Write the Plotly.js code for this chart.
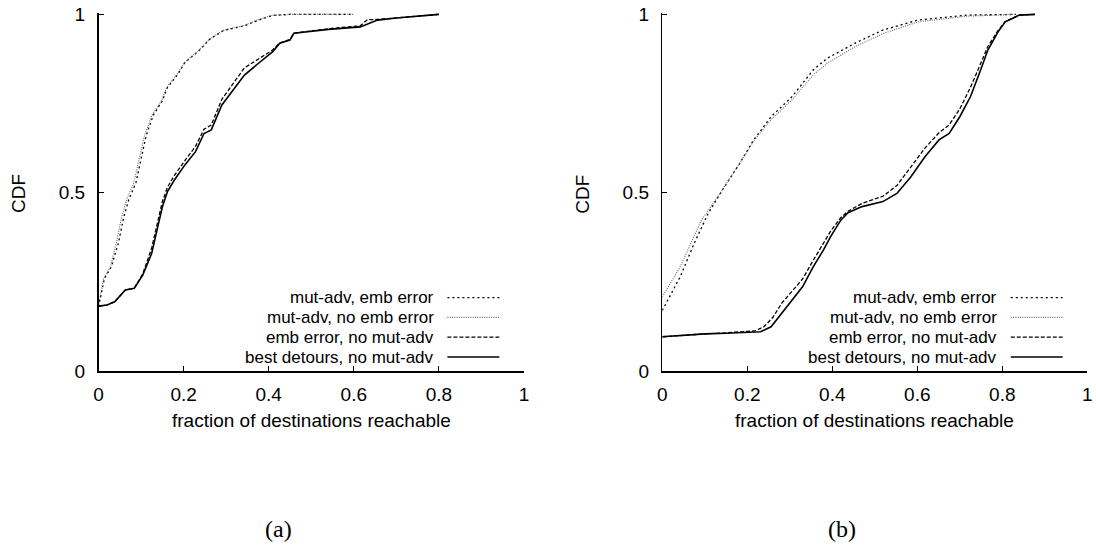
<!DOCTYPE html>
<html>
<head>
<meta charset="utf-8">
<script src="https://cdn.plot.ly/plotly-3.0.1.min.js"></script>
<style>html,body{margin:0;padding:0;background:#fff;}#chart{width:1096px;height:548px;}</style>
</head>
<body>
<div id="chart"></div>
<script>
// ---------- data: panel (a) ----------
const a_mutEmb_x = [0, 0.014, 0.03, 0.047, 0.059, 0.071, 0.088, 0.1, 0.112, 0.129, 0.15, 0.162, 0.187, 0.203, 0.236, 0.261, 0.294, 0.343, 0.376, 0.409, 0.45, 0.6];
const a_mutEmb_y = [0.18, 0.26, 0.292, 0.36, 0.43, 0.48, 0.528, 0.595, 0.66, 0.718, 0.758, 0.795, 0.833, 0.865, 0.898, 0.93, 0.955, 0.968, 0.984, 0.997, 1.0, 1.0];
const a_mutNoEmb_x = [0, 0.012, 0.028, 0.042, 0.054, 0.066, 0.083, 0.096, 0.108, 0.126, 0.148, 0.16, 0.185, 0.202, 0.235, 0.26, 0.292, 0.34, 0.372, 0.405, 0.45, 0.6];
const a_mutNoEmb_y = [0.18, 0.26, 0.292, 0.36, 0.43, 0.48, 0.528, 0.595, 0.66, 0.718, 0.758, 0.795, 0.833, 0.865, 0.898, 0.93, 0.955, 0.968, 0.984, 0.997, 1.0, 1.0];
const a_embNoMut_x = [0, 0.02, 0.038, 0.05, 0.063, 0.084, 0.104, 0.125, 0.137, 0.15, 0.162, 0.178, 0.203, 0.228, 0.248, 0.265, 0.29, 0.31, 0.343, 0.376, 0.409, 0.426, 0.45, 0.459, 0.541, 0.615, 0.632, 0.656, 0.7, 0.8];
const a_embNoMut_y = [0.182, 0.185, 0.194, 0.21, 0.227, 0.232, 0.272, 0.345, 0.41, 0.475, 0.515, 0.548, 0.59, 0.63, 0.678, 0.69, 0.762, 0.795, 0.85, 0.875, 0.9, 0.92, 0.93, 0.947, 0.96, 0.968, 0.985, 0.986, 0.99, 1.0];
const a_best_x = [0, 0.02, 0.038, 0.05, 0.063, 0.084, 0.104, 0.125, 0.137, 0.15, 0.162, 0.178, 0.203, 0.228, 0.248, 0.265, 0.29, 0.31, 0.343, 0.376, 0.409, 0.426, 0.45, 0.459, 0.541, 0.615, 0.656, 0.7, 0.8];
const a_best_y = [0.182, 0.185, 0.194, 0.21, 0.227, 0.232, 0.269, 0.33, 0.395, 0.46, 0.503, 0.535, 0.578, 0.615, 0.666, 0.676, 0.746, 0.778, 0.83, 0.863, 0.895, 0.919, 0.928, 0.947, 0.958, 0.965, 0.984, 0.99, 1.0];

// ---------- data: panel (b) ----------
const b_mutEmb_x = [0, 0.042, 0.075, 0.108, 0.141, 0.182, 0.215, 0.256, 0.305, 0.355, 0.388, 0.453, 0.519, 0.601, 0.716, 0.832];
const b_mutEmb_y = [0.17, 0.264, 0.358, 0.442, 0.507, 0.582, 0.648, 0.713, 0.769, 0.844, 0.877, 0.919, 0.956, 0.984, 0.998, 1.0];
const b_mutNoEmb_x = [0, 0.042, 0.092, 0.125, 0.182, 0.215, 0.256, 0.305, 0.355, 0.388, 0.453, 0.519, 0.601, 0.716, 0.832];
const b_mutNoEmb_y = [0.208, 0.292, 0.423, 0.479, 0.582, 0.645, 0.705, 0.76, 0.83, 0.863, 0.909, 0.946, 0.979, 0.995, 1.0];
const b_embNoMut_x = [0, 0.05, 0.1, 0.15, 0.2, 0.22, 0.239, 0.26, 0.281, 0.305, 0.33, 0.355, 0.379, 0.396, 0.42, 0.437, 0.47, 0.519, 0.552, 0.585, 0.618, 0.651, 0.675, 0.7, 0.725, 0.749, 0.766, 0.79, 0.807, 0.84, 0.877];
const b_embNoMut_y = [0.096, 0.101, 0.104, 0.107, 0.11, 0.113, 0.124, 0.15, 0.19, 0.222, 0.258, 0.31, 0.356, 0.392, 0.43, 0.448, 0.47, 0.49, 0.52, 0.572, 0.625, 0.668, 0.69, 0.735, 0.795, 0.862, 0.91, 0.955, 0.98, 0.998, 1.0];
const b_best_x = [0, 0.05, 0.1, 0.15, 0.2, 0.231, 0.256, 0.281, 0.305, 0.33, 0.355, 0.379, 0.396, 0.42, 0.437, 0.47, 0.519, 0.552, 0.585, 0.618, 0.651, 0.675, 0.7, 0.725, 0.749, 0.766, 0.79, 0.807, 0.84, 0.877];
const b_best_y = [0.096, 0.101, 0.104, 0.106, 0.108, 0.11, 0.124, 0.162, 0.199, 0.236, 0.292, 0.339, 0.377, 0.423, 0.444, 0.461, 0.475, 0.498, 0.545, 0.601, 0.648, 0.666, 0.713, 0.769, 0.844, 0.9, 0.951, 0.979, 0.998, 1.0];

// ---------- labels ----------
const seriesNames = ["mut-adv, emb error", "mut-adv, no emb error", "emb error, no mut-adv", "best detours, no mut-adv"];
const xTickVals = [0, 0.2, 0.4, 0.6, 0.8, 1];
const xTickText = ["0", "0.2", "0.4", "0.6", "0.8", "1"];
const yTickVals = [0, 0.5, 1];
const yTickText = ["0", "0.5", "1"];
const xTitle = "fraction of destinations reachable";
const yTitle = "CDF";
const captions = ["(a)", "(b)"];

// ---------- styles ----------
const W = 1096, H = 548;
const styles = [
  {color: "#000", width: 1.3, dash: "2px,3px"},
  {color: "#666", width: 1.1, dash: "1px,1.3px"},
  {color: "#000", width: 1.3, dash: "4px,2px"},
  {color: "#000", width: 1.6, dash: "solid"}
];
const FONT = "Liberation Sans, Arial, Helvetica, sans-serif";
const FS = 19;
const LFS = 17;

const panels = [
  {xa: "x", ya: "y", xs: [a_mutEmb_x, a_mutNoEmb_x, a_embNoMut_x, a_best_x], ys: [a_mutEmb_y, a_mutNoEmb_y, a_embNoMut_y, a_best_y],
   px0: 98.5, px1: 524},
  {xa: "x2", ya: "y2", xs: [b_mutEmb_x, b_mutNoEmb_x, b_embNoMut_x, b_best_x], ys: [b_mutEmb_y, b_mutNoEmb_y, b_embNoMut_y, b_best_y],
   px0: 662.3, px1: 1087.3}
];
const pyTop = 14.4, pyBot = 371;
const yRangeTop = 1.005;
const pyTopDomain = pyBot - (pyBot - pyTop) * yRangeTop;

const traces = [];
panels.forEach((p) => {
  for (let i = 0; i < 4; i++) {
    traces.push({
      type: "scatter", mode: "lines", x: p.xs[i], y: p.ys[i], xaxis: p.xa, yaxis: p.ya,
      name: seriesNames[i], showlegend: false, hoverinfo: "skip",
      line: {color: styles[i].color, width: styles[i].width, dash: styles[i].dash}
    });
  }
});

function axisX(p, anchor) {
  return {
    domain: [p.px0 / W, p.px1 / W], anchor: anchor, range: [0, 1], fixedrange: true,
    showline: true, linecolor: "#000", linewidth: 1.5, mirror: false, zeroline: false, showgrid: false,
    ticks: "inside", ticklen: 5, tickwidth: 1, tickcolor: "#000",
    tickvals: xTickVals, ticktext: xTickText, ticklabelstandoff: 6,
    tickfont: {family: FONT, size: FS, color: "#000"}
  };
}
function axisY(anchor) {
  return {
    domain: [1 - pyBot / H, 1 - pyTopDomain / H], anchor: anchor, range: [0, yRangeTop], fixedrange: true,
    showline: true, linecolor: "#000", linewidth: 1.5, mirror: false, zeroline: false, showgrid: false,
    ticks: "inside", ticklen: 5, tickwidth: 1, tickcolor: "#000",
    tickvals: yTickVals, ticktext: yTickText, ticklabelstandoff: 8,
    tickfont: {family: FONT, size: FS, color: "#000"}
  };
}

const annotations = [];
const shapes = [];
const legendRowsPy = [297.6, 317.4, 337.2, 357.0];
panels.forEach((p, k) => {
  const span = p.px1 - p.px0;
  const textRight = p.px0 + 0.79 * span;
  const lineL = p.px0 + 0.82 * span;
  const lineR = p.px0 + 0.942 * span;
  for (let i = 0; i < 4; i++) {
    const yy = 1 - legendRowsPy[i] / H;
    annotations.push({xref: "paper", yref: "paper", x: textRight / W, y: yy, xanchor: "right", yanchor: "middle",
      text: seriesNames[i], showarrow: false, borderpad: 0, font: {family: FONT, size: LFS, color: "#000"}});
    shapes.push({type: "line", xref: "paper", yref: "paper", x0: lineL / W, x1: lineR / W, y0: yy, y1: yy,
      line: {color: styles[i].color, width: styles[i].width, dash: styles[i].dash}});
  }
  // axis titles
  annotations.push({xref: "paper", yref: "paper", x: (p.px0 + p.px1) / 2 / W, y: 1 - 420 / H, xanchor: "center", yanchor: "middle",
    text: xTitle, showarrow: false, font: {family: FONT, size: FS, color: "#000"}});
  annotations.push({xref: "paper", yref: "paper", x: (p.px0 - 79.5) / W, y: 1 - 194 / H, xanchor: "center", yanchor: "middle",
    text: yTitle, textangle: -90, showarrow: false, font: {family: FONT, size: FS, color: "#000"}});
  // caption
  annotations.push({xref: "paper", yref: "paper", x: (p.px0 + p.px1) / 2 / W - 33 / W, y: 1 - 529 / H, xanchor: "center", yanchor: "middle",
    text: captions[k], showarrow: false, font: {family: "Liberation Serif, DejaVu Serif, serif", size: 24, color: "#000"}});
});

const layout = {
  width: W, height: H, margin: {l: 0, r: 0, t: 0, b: 0},
  paper_bgcolor: "#fff", plot_bgcolor: "rgba(0,0,0,0)", showlegend: false,
  xaxis: axisX(panels[0], "y"), yaxis: axisY("x"),
  xaxis2: axisX(panels[1], "y2"), yaxis2: axisY("x2"),
  annotations: annotations, shapes: shapes
};
Plotly.newPlot("chart", traces, layout, {staticPlot: true, displayModeBar: false});
</script>
</body>
</html>
